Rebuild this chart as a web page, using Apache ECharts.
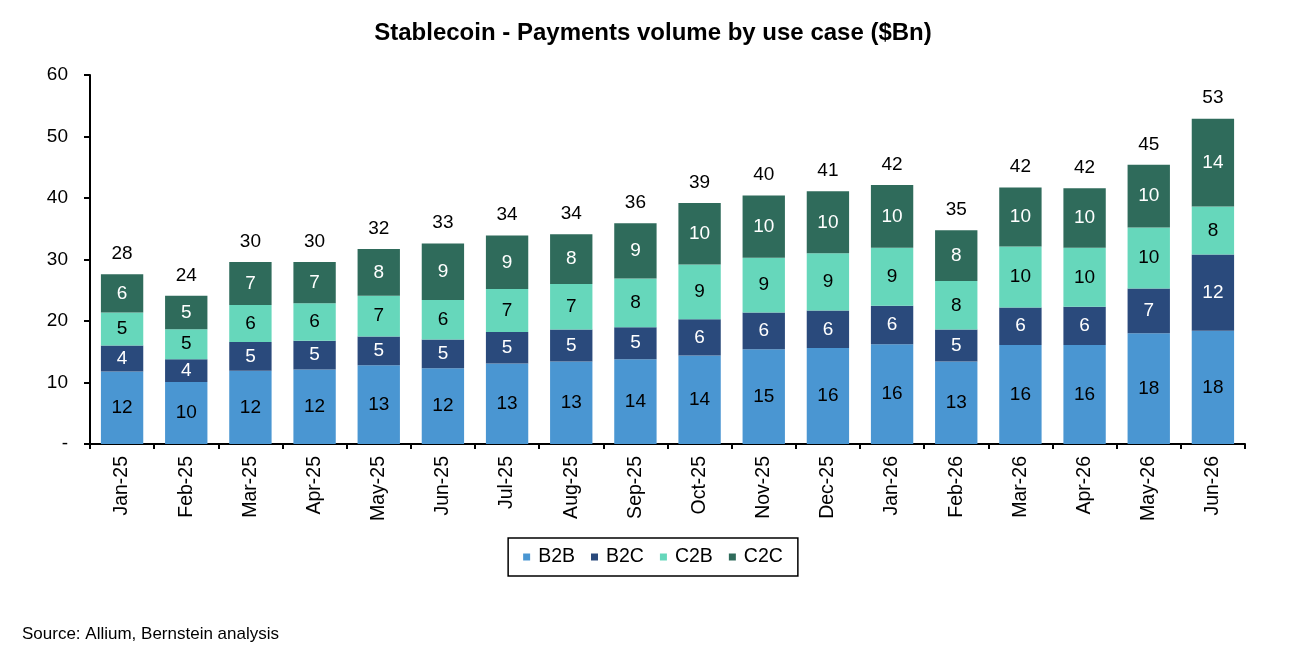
<!DOCTYPE html>
<html>
<head>
<meta charset="utf-8">
<title>Stablecoin - Payments volume by use case</title>
<script src="https://cdn.jsdelivr.net/npm/echarts@6/dist/echarts.min.js"></script>
<style>
    html, body {
        margin: 0;
        padding: 0;
        background: #ffffff;
    }

    #stablecoin-chart {
        width: 1306px;
        height: 656px;
    }
</style>
</head>
<body>
<div id="stablecoin-chart"></div>
<script>
// Datos ($Bn)
const months = ['Jan-25', 'Feb-25', 'Mar-25', 'Apr-25', 'May-25', 'Jun-25', 'Jul-25', 'Aug-25', 'Sep-25',
    'Oct-25', 'Nov-25', 'Dec-25', 'Jan-26', 'Feb-26', 'Mar-26', 'Apr-26', 'May-26', 'Jun-26'];
const b2b = [11.8, 10.1, 11.9, 12.1, 12.8, 12.3, 13.1, 13.4, 13.8, 14.4, 15.4, 15.6, 16.2, 13.4, 16.1, 16.1, 18.0, 18.4];
const b2c = [4.2, 3.7, 4.7, 4.7, 4.7, 4.7, 5.1, 5.2, 5.2, 5.9, 6.0, 6.1, 6.3, 5.2, 6.1, 6.2, 7.3, 12.4];
const c2b = [5.4, 4.85, 6.0, 6.1, 6.6, 6.4, 7.0, 7.4, 7.9, 8.9, 8.9, 9.3, 9.4, 7.9, 9.9, 9.6, 9.9, 7.8];
const c2c = [6.2, 5.45, 7.0, 6.7, 7.6, 9.2, 8.7, 8.1, 9.0, 10.0, 10.1, 10.1, 10.2, 8.25, 9.6, 9.7, 10.2, 14.3];
const yTicks = [0, 10, 20, 30, 40, 50, 60];

const seriesNames = ['B2B', 'B2C', 'C2B', 'C2C'];
const seriesColors = ['#4a96d2', '#2a4a7c', '#66d7bb', '#2f6b5b'];
const labelColors = ['#000000', '#ffffff', '#000000', '#ffffff'];

const FONT = '"Liberation Sans", Arial, Helvetica, sans-serif';

function initStablecoinChart() {
    const chart = echarts.init(document.getElementById('stablecoin-chart'));

    // Totales por mes (suma de los cuatro casos de uso)
    const totals = months.map((m, i) => b2b[i] + b2c[i] + c2b[i] + c2c[i]);

    const stackSeries = [b2b, b2c, c2b, c2c].map((values, idx) => ({
        name: seriesNames[idx],
        type: 'bar',
        stack: 'total',
        barCategoryGap: '34%',
        itemStyle: { color: seriesColors[idx] },
        label: {
            show: true,
            position: 'inside',
            fontFamily: FONT,
            fontSize: 19,
            color: labelColors[idx],
            formatter: p => Math.round(p.value)
        },
        emphasis: { disabled: true },
        data: values
    }));

    // Serie vacia para poner el total encima de cada barra
    const totalSeries = {
        name: 'Total',
        type: 'bar',
        stack: 'total',
        itemStyle: { color: 'transparent' },
        label: {
            show: true,
            position: 'top',
            distance: 11,
            fontFamily: FONT,
            fontSize: 19,
            color: '#000000',
            formatter: p => Math.round(totals[p.dataIndex])
        },
        emphasis: { disabled: true },
        data: months.map(() => 0)
    };

    const option = {
        animation: false,
        backgroundColor: '#ffffff',
        title: {
            text: 'Stablecoin - Payments volume by use case ($Bn)',
            left: 'center',
            top: 16,
            textStyle: {
                fontFamily: FONT,
                fontSize: 24,
                fontWeight: 'bold',
                color: '#000000'
            }
        },
        legend: {
            data: seriesNames,
            left: 'center',
            top: 538,
            icon: 'rect',
            itemWidth: 7,
            itemHeight: 7,
            itemGap: 16,
            padding: [9, 15],
            borderColor: '#000000',
            borderWidth: 1.5,
            textStyle: {
                fontFamily: FONT,
                fontSize: 19.5,
                color: '#000000',
                padding: [0, 0, 0, 3]
            }
        },
        grid: {
            left: 90,
            right: 61,
            top: 75,
            bottom: 212
        },
        xAxis: {
            type: 'category',
            data: months,
            axisLine: { lineStyle: { color: '#000000', width: 2 } },
            axisTick: { show: true, length: 5, lineStyle: { color: '#000000', width: 2 } },
            axisLabel: {
                rotate: 90,
                margin: 12,
                fontFamily: FONT,
                fontSize: 19.5,
                color: '#000000'
            }
        },
        yAxis: {
            type: 'value',
            min: yTicks[0],
            max: yTicks[yTicks.length - 1],
            interval: yTicks[1] - yTicks[0],
            splitLine: { show: false },
            axisLine: { show: true, lineStyle: { color: '#000000', width: 2 } },
            axisTick: { show: true, length: 6, lineStyle: { color: '#000000', width: 2 } },
            axisLabel: {
                margin: 22,
                fontFamily: FONT,
                fontSize: 19,
                color: '#000000',
                formatter: v => (v === 0 ? '-' : v)
            }
        },
        graphic: [{
            type: 'text',
            left: 22,
            top: 626,
            style: {
                text: 'Source: Allium, Bernstein analysis',
                font: '17px ' + FONT,
                fill: '#000000'
            }
        }],
        series: stackSeries.concat([totalSeries])
    };

    chart.setOption(option);

    window.addEventListener('resize', function() {
        chart.resize();
    });

    return chart;
}

window.stablecoinChart = initStablecoinChart();
</script>
</body>
</html>
